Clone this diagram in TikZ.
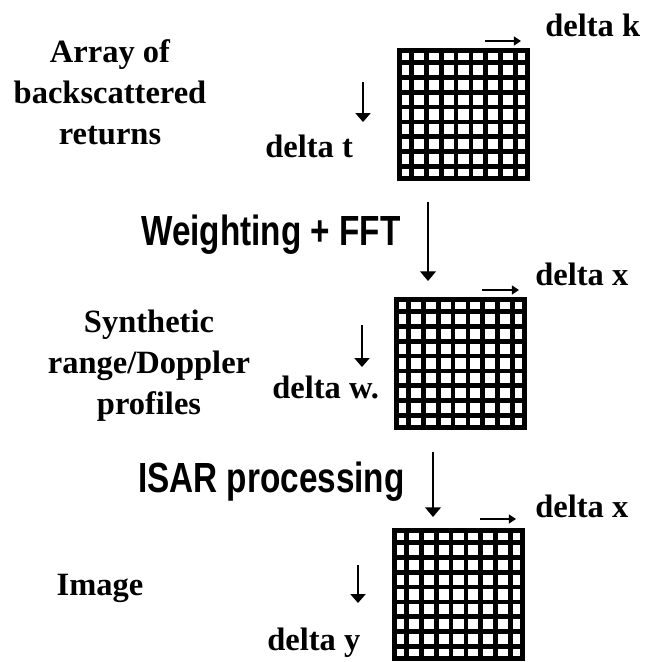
\documentclass[tikz,border=0pt]{standalone}
\usepackage{fontspec}
\setmainfont{Liberation Serif}
\newfontfamily\stepfont[FakeStretch=0.79]{Liberation Sans}
\usetikzlibrary{arrows.meta, positioning, calc}

\tikzset{
  cellgrid/.style   = {rectangle, draw, line width=3pt, minimum size=2.56cm,
                       inner sep=0pt},
  gridline/.style   = {line width=2.6pt},
  deltalabel/.style = {anchor=base west, inner sep=0pt,
                       font=\fontsize{18.5}{22}\selectfont\bfseries},
  sidelabel/.style  = {align=center, inner sep=0pt,
                       font=\fontsize{18.5}{23.3}\selectfont\bfseries},
  steplabel/.style  = {anchor=base east, inner sep=0pt,
                       font=\fontsize{24}{28}\selectfont\stepfont\bfseries},
  axisarrow/.style  = {-{Triangle[length=4pt, width=5pt]}, line width=1.1pt},
  smallarrow/.style = {-{Triangle[length=5pt, width=8.5pt]}, line width=0.75pt},
  flowarrow/.style  = {-{Triangle[length=5.5pt, width=9pt]}, line width=0.75pt},
}

% inner lines of a 9x9 sample grid
\newcommand{\gridcells}[1]{%
  \foreach \i in {1,...,8} {
    \draw[gridline] ($(#1.north west)!\i/9!(#1.north east)$)
                 -- ($(#1.south west)!\i/9!(#1.south east)$);
    \draw[gridline] ($(#1.north west)!\i/9!(#1.south west)$)
                 -- ($(#1.north east)!\i/9!(#1.south east)$);
  }}

\begin{document}
\begin{tikzpicture}[x=0.02cm, y=-0.02cm]
  \useasboundingbox (0,0) rectangle (647,662);

  % the three data arrays
  \node[cellgrid] (returns)  at (463.5,114.5) {};
  \node[cellgrid] (profiles) at (460.5,363.5) {};
  \node[cellgrid] (image)    at (458.5,594.5) {};
  \gridcells{returns}
  \gridcells{profiles}
  \gridcells{image}

  % left hand captions
  \node[sidelabel] (returnstxt)  at (110,92)  {Array of\\backscattered\\returns};
  \node[sidelabel] (profilestxt) at (149,366) {Synthetic\\range/Doppler\\profiles};
  \node[sidelabel, anchor=base] (imagetxt) at (100,595) {Image};

  % sample spacings
  \node[deltalabel] (dk)  at (545,37)  {delta k};
  \node[deltalabel] (dt)  at (265,158) {delta t};
  \node[deltalabel] (dx1) at (535,285) {delta x};
  \node[deltalabel] (dw)  at (272,398) {delta w.};
  \node[deltalabel] (dx2) at (535,517) {delta x};
  \node[deltalabel] (dy)  at (267,650) {delta y};

  \coordinate (dk-a)  at (485,41);  \coordinate (dk-b)  at (521,41);
  \coordinate (dx1-a) at (482,290); \coordinate (dx1-b) at (519,290);
  \coordinate (dx2-a) at (480,519); \coordinate (dx2-b) at (516,519);
  \draw[axisarrow] (dk-a) -- (dk-b);
  \draw[axisarrow] (dx1-a) -- (dx1-b);
  \draw[axisarrow] (dx2-a) -- (dx2-b);

  \coordinate (dt-a) at (363,82);  \coordinate (dt-b) at (363,122);
  \coordinate (dw-a) at (362,325); \coordinate (dw-b) at (362,367);
  \coordinate (dy-a) at (358,565); \coordinate (dy-b) at (358,603);
  \draw[smallarrow] (dt-a) -- (dt-b);
  \draw[smallarrow] (dw-a) -- (dw-b);
  \draw[smallarrow] (dy-a) -- (dy-b);

  % processing steps
  \node[steplabel] (fft)  at (401,245) {Weighting + FFT};
  \node[steplabel] (isar) at (405,492) {ISAR processing};
  \coordinate (fft-a)  at (428,202); \coordinate (fft-b)  at (428,281);
  \coordinate (isar-a) at (433,452); \coordinate (isar-b) at (433,517);
  \draw[flowarrow] (fft-a) -- (fft-b);
  \draw[flowarrow] (isar-a) -- (isar-b);
\end{tikzpicture}
\end{document}
